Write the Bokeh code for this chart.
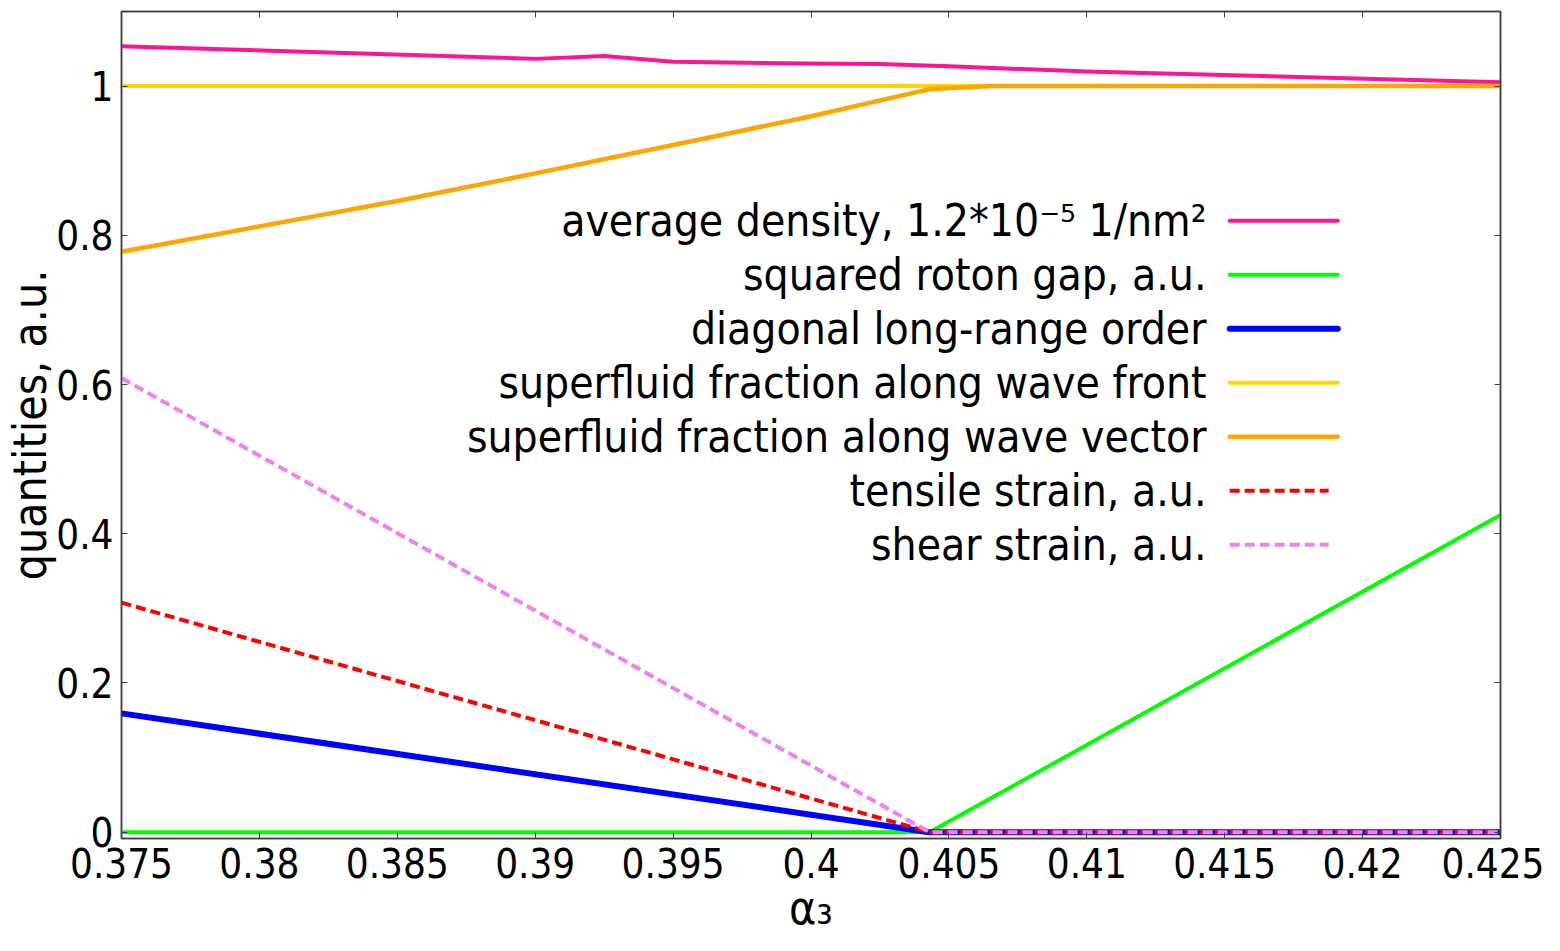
from bokeh.plotting import figure
from bokeh.models import FixedTicker, LinearAxis, Range1d, Label
from bokeh.embed import file_html
from bokeh.resources import INLINE

FONT = "DejaVu Sans Condensed, DejaVu Sans"

# ---------------- data ----------------
density_x = [0.375, 0.39, 0.3925, 0.395, 0.4, 0.4025, 0.405, 0.41, 0.425]
density_y = [1.0534, 1.0365, 1.0402, 1.0325, 1.0302, 1.0295, 1.0265, 1.0196, 1.0051]

gap_x = [0.375, 0.4043, 0.4066, 0.425]
gap_y = [0.0, 0.0, 0.047, 0.4252]

order_x = [0.375, 0.4043, 0.425]
order_y = [0.1592, 0.0, 0.0]

front_x = [0.375, 0.425]
front_y = [1.0, 1.0]

vector_x = [0.375, 0.38, 0.385, 0.39, 0.395, 0.4, 0.4043, 0.4066, 0.425]
vector_y = [0.778, 0.812, 0.846, 0.883, 0.921, 0.9595, 0.996, 1.0, 1.0]

tensile_x = [0.375, 0.4043, 0.425]
tensile_y = [0.3076, 0.0, 0.0]

shear_x = [0.375, 0.4043, 0.425]
shear_y = [0.6086, 0.0, 0.0]

x_ticks = [0.375, 0.38, 0.385, 0.39, 0.395, 0.4, 0.405, 0.41, 0.415, 0.42, 0.425]
x_tick_labels = ["0.375", "0.38", "0.385", "0.39", "0.395", "0.4", "0.405", "0.41", "0.415", "0.42", "0.425"]
y_ticks = [0, 0.2, 0.4, 0.6, 0.8, 1.0]
y_tick_labels = ["0", "0.2", "0.4", "0.6", "0.8", "1"]

labels = [
    "average density, 1.2*10\u207b\u2075 1/nm\u00b2",
    "squared roton gap, a.u.",
    "diagonal long-range order",
    "superfluid fraction along wave front",
    "superfluid fraction along wave vector",
    "tensile strain, a.u.",
    "shear strain, a.u.",
]
colors = ["#ff1493", "#00ff00", "#0000ff", "#ffd700", "#ffa500", "#ff0000", "#ee82ee"]
widths = [4, 4, 6, 4, 4.5, 4, 4]
dashes = ["solid", "solid", "solid", "solid", "solid", "10 5", "10 5"]

X0, X1 = 0.375, 0.425
Y0, Y1 = -0.0085, 1.1

W, H = 1544, 943
p = figure(width=W, height=H, x_range=Range1d(X0, X1), y_range=Range1d(Y0, Y1),
           output_backend="svg", toolbar_location=None,
           min_border_left=120, min_border_right=44, min_border_top=11, min_border_bottom=105)
p.grid.visible = False
p.outline_line_color = "#404040"
p.outline_line_width = 1.5
p.background_fill_color = "white"

for ax, ticks, tl in ((p.xaxis[0], x_ticks, x_tick_labels), (p.yaxis[0], y_ticks, y_tick_labels)):
    ax.ticker = FixedTicker(ticks=ticks)
    ax.major_label_overrides = {t: l for t, l in zip(ticks, tl)}
    ax.major_tick_in = 6
    ax.major_tick_out = 0
    ax.minor_tick_line_color = None
    ax.major_tick_line_color = "#404040"
    ax.axis_line_color = "#404040"
    ax.axis_line_width = 1.5
    ax.major_label_text_font = FONT
    ax.major_label_text_font_size = "40px"
    ax.major_label_text_color = "black"
    ax.axis_label_text_font = FONT
    ax.axis_label_text_font_size = "46px"
    ax.axis_label_text_font_style = "normal"
    ax.axis_label_text_color = "black"

p.xaxis.major_label_standoff = 9
p.yaxis.major_label_standoff = 8
p.xaxis.axis_label = "\u03b1\u2083"
p.yaxis.axis_label = "quantities, a.u."
p.xaxis.axis_label_standoff = 0
p.yaxis.axis_label_standoff = -4

# mirror ticks on top and right (no labels)
for loc, ticks in (("above", x_ticks), ("right", y_ticks)):
    ax = LinearAxis(ticker=FixedTicker(ticks=ticks), major_tick_in=6, major_tick_out=0,
                    minor_tick_line_color=None, major_label_overrides={t: "" for t in ticks},
                    major_label_text_color=None, major_label_text_font_size="1px",
                    major_label_standoff=0, axis_line_color="#404040", axis_line_width=1.5,
                    major_tick_line_color="#404040")
    p.add_layout(ax, loc)

series = [(density_x, density_y), (gap_x, gap_y), (order_x, order_y), (front_x, front_y),
          (vector_x, vector_y), (tensile_x, tensile_y), (shear_x, shear_y)]
for (xs, ys), c, w, d in zip(series, colors, widths, dashes):
    cap = "round" if d == "solid" else "butt"
    p.line(xs, ys, line_color=c, line_width=w, line_dash=d, line_cap=cap, line_join="round")

# legend (text right-aligned, sample line to the right), positions in data units
leg_text_x = 0.41434
leg_s0 = 0.41518
leg_s1 = 0.41910
leg_s1_dash = 0.41877
leg_top = 0.8196
leg_step = 0.0724
for i, (lab, c, w, d) in enumerate(zip(labels, colors, widths, dashes)):
    yy = leg_top - i * leg_step
    p.add_layout(Label(x=leg_text_x, y=yy, text=lab, text_align="right", text_baseline="middle",
                       text_font=FONT, text_font_size="44px", text_color="black"))
    s1 = leg_s1 if d == "solid" else leg_s1_dash
    cap = "round" if d == "solid" else "butt"
    p.line([leg_s0, s1], [yy, yy], line_color=c, line_width=w, line_dash=d, line_cap=cap)

open("out.html", "w").write(file_html(p, INLINE))
